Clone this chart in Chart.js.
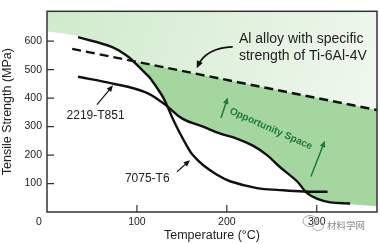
<!DOCTYPE html>
<html>
<head>
<meta charset="utf-8">
<script src="https://cdn.jsdelivr.net/npm/chart.js@4.4.1/dist/chart.umd.min.js"></script>
<style>
  html, body { margin: 0; padding: 0; background: #fff; }
  #wrap { width: 380px; height: 244px; }
</style>
</head>
<body>
<div id="wrap"><canvas id="c"></canvas></div>
<script>
// temperature (°C) / tensile strength (MPa)
const t7075 = [34.5, 72, 90, 96, 109, 115, 127.6, 133, 140, 148, 155.4, 162.4, 173.5, 189, 203.5, 233.5, 259, 285, 312];
const s7075 = [614, 580, 546, 529, 489, 469, 411, 378, 327, 276, 233, 199, 165, 131, 108, 84, 77, 72, 71];

const t2219 = [34.5, 72, 109, 131, 151, 173.5, 192, 211, 229, 245, 259, 278, 289, 300, 315, 337];
const s2219 = [475, 452, 421, 378, 327, 300, 276, 258, 233, 199, 158, 108, 67, 47, 34, 30];

// Al alloy with specific strength of Ti-6Al-4V
const tTi = [28, 367];
const sTi = [573, 358];

// edges of the shaded regions
const tShadeTop = [0, 15, 30, 45, 60, 72, 84, 92, 96, 367];
const sShadeTop = [634, 629, 621, 610, 598, 586, 566, 545, 530, 358];
const tOpp = [96, 109, 115, 127.6, 131, 151, 173.5, 192, 211, 229, 245, 259, 278, 289, 300, 315, 367];
const sOpp = [529, 489, 469, 411, 380, 327, 300, 276, 258, 233, 199, 158, 108, 67, 47, 34, 20];

const xTicks = [100, 200, 300];
const yTicks = [100, 200, 300, 400, 500, 600];

const pts = (t, s) => t.map((v, i) => ({ x: v, y: s[i] }));
const FONT = "'Liberation Sans', Arial, sans-serif";

function arrow(ctx, x0, y0, x1, y1, head) {
  const a = Math.atan2(y1 - y0, x1 - x0);
  ctx.beginPath();
  ctx.moveTo(x0, y0);
  ctx.lineTo(x1 - Math.cos(a) * head * 0.6, y1 - Math.sin(a) * head * 0.6);
  ctx.stroke();
  arrowHead(ctx, x1, y1, a, head);
}

function arrowHead(ctx, x, y, a, head) {
  ctx.beginPath();
  ctx.moveTo(x, y);
  ctx.lineTo(x - head * Math.cos(a - 0.42), y - head * Math.sin(a - 0.42));
  ctx.lineTo(x - head * Math.cos(a + 0.42), y - head * Math.sin(a + 0.42));
  ctx.closePath();
  ctx.fill();
}

const extras = {
  id: 'extras',
  afterDatasetsDraw(chart) {
    const { ctx, chartArea: a, scales: { x, y } } = chart;
    const px = v => x.getPixelForValue(v);
    const py = v => y.getPixelForValue(v);
    ctx.save();

    // frame + inward ticks
    ctx.strokeStyle = '#333';
    ctx.lineWidth = 1.5;
    ctx.strokeRect(a.left, a.top, a.right - a.left, a.bottom - a.top);
    ctx.lineWidth = 1.2;
    ctx.beginPath();
    yTicks.forEach(v => { ctx.moveTo(a.left, py(v)); ctx.lineTo(a.left + 7, py(v)); });
    xTicks.forEach(v => { ctx.moveTo(px(v), a.bottom); ctx.lineTo(px(v), a.bottom - 7); });
    ctx.stroke();

    ctx.fillStyle = '#222';
    ctx.font = '10.5px ' + FONT;
    ctx.textAlign = 'center';
    ctx.textBaseline = 'middle';
    ctx.fillText('0', a.left - 8, a.bottom + 10);

    // labels
    ctx.font = '14px ' + FONT;
    ctx.textAlign = 'left';
    ctx.fillText('Al alloy with specific', px(213.5), py(608));
    ctx.fillText('strength of Ti-6Al-4V', px(213.5), py(548));
    ctx.font = '12px ' + FONT;
    ctx.textAlign = 'center';
    ctx.fillText('2219-T851', px(54), py(340));
    ctx.fillText('7075-T6', px(111.5), py(118));

    // black arrows
    ctx.strokeStyle = '#111';
    ctx.fillStyle = '#111';
    ctx.lineWidth = 1.2;
    arrow(ctx, px(55.6), py(377), px(73.4), py(445), 7);
    arrow(ctx, px(144.5), py(141), px(159), py(182), 7);
    const sx = px(206.5), sy = py(580), cx = px(177), cy = py(576), ex = px(166.5), ey = py(505);
    ctx.lineWidth = 1.6;
    ctx.beginPath();
    ctx.moveTo(sx, sy);
    ctx.quadraticCurveTo(cx, cy, ex + 1.5, ey - 3);
    ctx.stroke();
    arrowHead(ctx, ex, ey, Math.atan2(ey - cy, ex - cx), 8);

    // opportunity space
    ctx.strokeStyle = '#1d7a3c';
    ctx.fillStyle = '#1d7a3c';
    ctx.lineWidth = 1.5;
    arrow(ctx, px(193.5), py(330), px(201), py(402), 7);
    arrow(ctx, px(293.5), py(125), px(309), py(250), 7);
    ctx.save();
    ctx.translate(px(249), py(292));
    ctx.rotate(24 * Math.PI / 180);
    ctx.font = 'bold 10px ' + FONT;
    ctx.textAlign = 'center';
    ctx.fillText('Opportunity Space', 0, 0);
    ctx.restore();
    ctx.restore();
  },
  afterDraw(chart) {
    const { ctx } = chart;
    ctx.save();
    // watermark
    ctx.strokeStyle = '#aaa';
    ctx.lineWidth = 1;
    ctx.beginPath();
    ctx.ellipse(310, 221, 7, 5.5, 0, 0, Math.PI * 2);
    ctx.stroke();
    ctx.beginPath();
    ctx.ellipse(318, 226, 5.5, 4.5, 0, 0, Math.PI * 2);
    ctx.stroke();
    ctx.fillStyle = '#888';
    ctx.font = "9.5px 'Noto Sans CJK SC', sans-serif";
    ctx.textAlign = 'left';
    ctx.textBaseline = 'middle';
    ctx.fillText('材料学网', 327, 225);
    ctx.restore();
  }
};

const lightFill = ctx => {
  const a = ctx.chart.chartArea;
  if (!a) return 'rgba(215,236,212,1)';
  const g = ctx.chart.ctx.createLinearGradient(a.left, a.top, a.right, a.top + 110);
  g.addColorStop(0, 'rgb(208,234,204)');
  g.addColorStop(1, 'rgb(240,248,238)');
  return g;
};

new Chart(document.getElementById('c'), {
  type: 'line',
  data: {
    datasets: [
      { label: '7075-T6', data: pts(t7075, s7075), borderColor: '#111', borderWidth: 2.4,
        tension: 0.4, fill: false },
      { label: '2219-T851', data: pts(t2219, s2219), borderColor: '#111', borderWidth: 2.4,
        tension: 0.4, fill: false },
      { label: 'Ti-6Al-4V equivalent', data: pts(tTi, sTi), borderColor: '#111', borderWidth: 2.4,
        borderDash: [9, 5], fill: false },
      { label: 'opportunity', data: pts(tOpp, sOpp), borderWidth: 0, borderColor: 'rgba(0,0,0,0)',
        tension: 0.4, backgroundColor: '#a5d6a0', fill: 2 },
      { label: 'upper', data: pts(tShadeTop, sShadeTop), borderWidth: 0, borderColor: 'rgba(0,0,0,0)',
        tension: 0, backgroundColor: lightFill, fill: 'end' }
    ]
  },
  options: {
    responsive: true,
    maintainAspectRatio: false,
    animation: false,
    layout: { padding: { top: 3, right: 3, left: 0, bottom: 0 } },
    elements: { point: { radius: 0 } },
    plugins: { legend: { display: false }, tooltip: { enabled: false } },
    scales: {
      x: {
        type: 'linear', min: 0, max: 367,
        grid: { display: false, drawTicks: false }, border: { display: false },
        afterBuildTicks: s => { s.ticks = xTicks.map(v => ({ value: v })); },
        ticks: { padding: 4, color: '#222', font: { family: FONT, size: 10.5 } },
        title: { display: true, text: 'Temperature (°C)', color: '#222',
          font: { family: FONT, size: 12.5 }, padding: { top: 0, bottom: 1 } },
        afterFit: s => { s.height = 32; }
      },
      y: {
        min: 0, max: 705,
        grid: { display: false, drawTicks: false }, border: { display: false },
        afterBuildTicks: s => { s.ticks = yTicks.map(v => ({ value: v })); },
        ticks: { padding: 5, color: '#222', font: { family: FONT, size: 10.5 } },
        title: { display: true, text: 'Tensile Strength (MPa)', color: '#222',
          font: { family: FONT, size: 12.5 }, padding: { top: 0, bottom: 0 } },
        afterFit: s => { s.width = 47; }
      }
    }
  },
  plugins: [extras]
});
</script>
</body>
</html>
